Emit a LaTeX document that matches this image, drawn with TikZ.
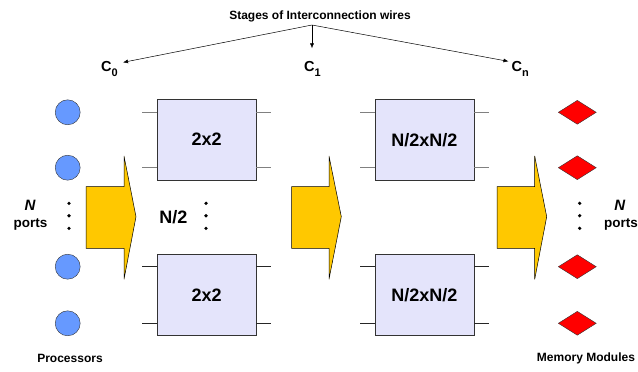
\documentclass[tikz,border=0pt]{standalone}
\usepackage{fontspec}
\setmainfont{Liberation Sans}
\usetikzlibrary{shapes.geometric,arrows.meta}
\definecolor{procblue}{RGB}{102,153,255}
\definecolor{boxfill}{RGB}{228,228,251}
\definecolor{flowyellow}{RGB}{255,200,0}
\newcommand{\stagesub}[1]{\raisebox{-5pt}{\fontsize{11}{11}\selectfont\bfseries #1}}
\tikzset{
  proc/.style={circle, draw=black!80, fill=procblue, minimum size=25pt, inner sep=0pt},
  mem/.style={diamond, draw=black!80, fill=red, minimum width=38pt, minimum height=24pt, inner sep=0pt, aspect=1.55},
  switchbox/.style={draw=black!80, fill=boxfill, minimum width=99pt, minimum height=81pt, inner sep=0pt,
    font=\fontsize{18}{20}\selectfont\bfseries},
  stub/.style={draw=gray, line width=1.2pt},
  stubdark/.style={draw=black!85, line width=0.9pt},
  flow/.style={draw=black, fill=flowyellow, line width=0.5pt},
  vdot/.style={circle, fill=black, minimum size=3.6pt, inner sep=0pt},
  ptr/.style={-{Latex[length=5pt,width=4pt]}, line width=0.5pt},
  clabel/.style={font=\fontsize{14.5}{16}\selectfont\bfseries, inner sep=0pt, anchor=base west},
  small/.style={font=\fontsize{12}{14}\selectfont\bfseries}
}
\begin{document}
\begin{tikzpicture}[x=1pt, y=-1pt]
  \useasboundingbox (0,0) rectangle (638,372);
  % stage labels
  \node [small] (stages) at (320,16.5) {Stages of Interconnection wires};
  \coordinate (hub) at (312,25);
  \node [clabel] (c0) at (101,71.7) {C\stagesub{0}};
  \node [clabel] (c1) at (304,71.7) {C\stagesub{1}};
  \node [clabel] (cn) at (511.5,71.7) {C\stagesub{n}};
  \draw [ptr] (hub) -- ([shift={(5,1)}]c0.north east);
  \draw [ptr] (hub) -- ([yshift=13pt]c1.north -| hub);
  \draw [ptr] (hub) -- ([shift={(-3,0)}]cn.north west);
  % processors
  \node [proc] (p1) at (67.7,112.3) {};
  \node [proc] (p2) at (67.7,167.7) {};
  \node [proc] (p3) at (67.7,266.7) {};
  \node [proc] (p4) at (67.7,323.3) {};
  \node [vdot] at (69,203.3) {};
  \node [vdot] at (69,215.7) {};
  \node [vdot] at (69,228.3) {};
  \node [font=\fontsize{15}{15}\selectfont\bfseries\itshape] (nl) at (30,205) {N};
  \node [font=\fontsize{13.5}{15}\selectfont\bfseries] (pl) at (30.5,224) {ports};
  \node [small] (procs) at (70,358.3) {Processors};
  % memory modules
  \node [mem] (m1) at (577.3,112.3) {};
  \node [mem] (m2) at (577.3,167.7) {};
  \node [mem] (m3) at (577.3,266.7) {};
  \node [mem] (m4) at (577.3,323.3) {};
  \node [vdot] at (579.7,203.3) {};
  \node [vdot] at (579.7,215.7) {};
  \node [vdot] at (579.7,228.3) {};
  \node [font=\fontsize{15}{15}\selectfont\bfseries\itshape] (nr) at (619.7,205) {N};
  \node [font=\fontsize{13.5}{15}\selectfont\bfseries] (pr) at (621,224) {ports};
  \node [small] (mems) at (586,358.3) {Memory Modules};
  % flow arrows
  \draw [flow] (86,186.7) -- (124,186.7) -- (124,156) -- (136,216.7) -- (124,279.3) -- (124,248.3) -- (86,248.3) -- cycle;
  \draw [flow] (291.7,186.7) -- (329,186.7) -- (329,156) -- (341.3,216.7) -- (329,279.3) -- (329,248.3) -- (291.7,248.3) -- cycle;
  \draw [flow] (497,186.7) -- (534.7,186.7) -- (534.7,156) -- (546.7,216.7) -- (534.7,279.3) -- (534.7,248.3) -- (497,248.3) -- cycle;
  % switch boxes
  \node [switchbox] (s1) at (206.7,139.7) {2x2};
  \node [switchbox] (s2) at (206.7,295) {2x2};
  \node [switchbox] (s3) at (424.3,139.7) {N/2xN/2};
  \node [switchbox] (s4) at (424.3,295) {N/2xN/2};
  \node [font=\fontsize{18}{20}\selectfont\bfseries] (half) at (173.3,216.7) {N/2};
  \node [vdot] at (206,203.3) {};
  \node [vdot] at (206,215.7) {};
  \node [vdot] at (206,228.3) {};
  % stubs
  \draw [stub] (s1.west |- p1) -- ++(-15,0);
  \draw [stub] (s1.west |- p2) -- ++(-15,0);
  \draw [stub] (s1.east |- p1) -- ++(15,0);
  \draw [stub] (s1.east |- p2) -- ++(15,0);
  \draw [stubdark] (s2.west |- p3) -- ++(-15,0);
  \draw [stubdark] (s2.west |- p4) -- ++(-15,0);
  \draw [stubdark] (s2.east |- p3) -- ++(15,0);
  \draw [stubdark] (s2.east |- p4) -- ++(15,0);
  \draw [stub] (s3.west |- p1) -- ++(-15,0);
  \draw [stub] (s3.west |- p2) -- ++(-15,0);
  \draw [stub] (s3.east |- p1) -- ++(15,0);
  \draw [stub] (s3.east |- p2) -- ++(15,0);
  \draw [stubdark] (s4.west |- p3) -- ++(-15,0);
  \draw [stubdark] (s4.west |- p4) -- ++(-15,0);
  \draw [stubdark] (s4.east |- p3) -- ++(15,0);
  \draw [stubdark] (s4.east |- p4) -- ++(15,0);
\end{tikzpicture}
\end{document}
